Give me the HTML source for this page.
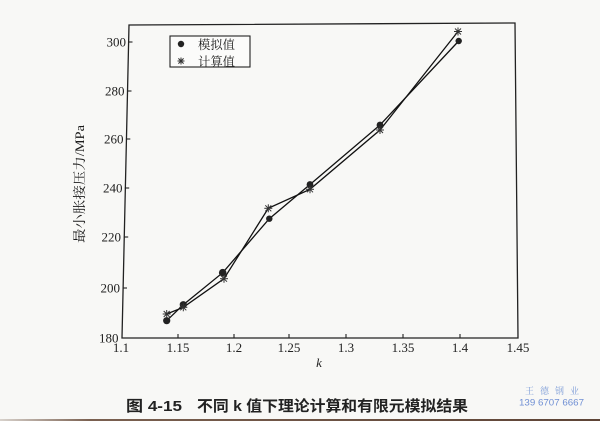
<!DOCTYPE html>
<html><head><meta charset="utf-8"><style>
html,body{margin:0;padding:0;background:#f8f8f6;}
svg{display:block;}
</style></head><body>
<svg width="600" height="421" viewBox="0 0 600 421" xmlns="http://www.w3.org/2000/svg">
<defs>
<linearGradient id="bb" x1="0" x2="1" y1="0" y2="0">
<stop offset="0" stop-color="#d8d2cc"/><stop offset="0.15" stop-color="#7a6050"/><stop offset="1" stop-color="#5e4436"/>
</linearGradient>
</defs>
<rect x="0" y="0" width="600" height="421" fill="#f8f8f6"/>
<rect x="0" y="419" width="600" height="2" fill="url(#bb)"/>
<!-- axes box -->
<polygon points="129,25 515,23 518,338 122,338" fill="none" stroke="#222" stroke-width="1.3"/>
<!-- y ticks -->
<g stroke="#222" stroke-width="1.1">
<line x1="128.1" y1="42" x2="132.5" y2="42"/>
<line x1="127" y1="91" x2="131.5" y2="91"/>
<line x1="125.9" y1="139" x2="130.3" y2="139"/>
<line x1="124.8" y1="188" x2="129.2" y2="188"/>
<line x1="123.8" y1="237" x2="128.2" y2="237"/>
<line x1="122.6" y1="288" x2="127" y2="288"/>
<!-- x ticks -->
<line x1="178" y1="338" x2="178" y2="334"/>
<line x1="234" y1="338" x2="234" y2="334"/>
<line x1="289" y1="338" x2="289" y2="334"/>
<line x1="346" y1="338" x2="346" y2="334"/>
<line x1="403" y1="338" x2="403" y2="334"/>
<line x1="460" y1="338" x2="460" y2="334"/>
</g>
<g font-family="'Liberation Serif', serif" font-size="13" fill="#222" text-anchor="end">
<text x="126" y="46.5">300</text>
<text x="124.5" y="95.5">280</text>
<text x="123.5" y="143.5">260</text>
<text x="122.5" y="192.5">240</text>
<text x="121" y="241.5">220</text>
<text x="120" y="292.5">200</text>
<text x="118.5" y="342.5">180</text>
</g>
<g font-family="'Liberation Serif', serif" font-size="13" fill="#222" text-anchor="middle">
<text x="121" y="352">1.1</text>
<text x="178" y="352">1.15</text>
<text x="234" y="352">1.2</text>
<text x="289" y="352">1.25</text>
<text x="346" y="352">1.3</text>
<text x="403" y="352">1.35</text>
<text x="460" y="352">1.4</text>
<text x="518" y="352">1.45</text>
<text x="319" y="367" font-style="italic">k</text>
</g>
<text transform="translate(84,184) rotate(-90)" font-family="'Liberation Serif','Noto Serif CJK SC',serif" font-size="13" fill="#1a1a1a" text-anchor="middle" textLength="118" lengthAdjust="spacingAndGlyphs">最小胀接压力/MPa</text>
<!-- series lines -->
<polyline points="166.7,320.7 183.3,304.7 222.7,272.7 269.3,218.7 310,184.5 380,125 458.7,41" fill="none" stroke="#111" stroke-width="1.3"/>
<polyline points="166.7,314 183.3,307.3 224,278.7 268.3,208.3 310,189.3 380,130 458,31.5" fill="none" stroke="#111" stroke-width="1.3"/>
<!-- circles -->
<g fill="#222">
<circle cx="166.7" cy="320.7" r="3.6"/>
<circle cx="183.3" cy="304.7" r="3.6"/>
<circle cx="222.7" cy="272.7" r="3.8"/>
<circle cx="269.3" cy="218.7" r="3.2"/>
<circle cx="310" cy="184.5" r="3.4"/>
<circle cx="380" cy="125" r="3.4"/>
<circle cx="458.7" cy="41" r="3.2"/>
</g>
<!-- stars -->
<g stroke="#333" stroke-width="1">
<g transform="translate(166.7,314)"><line x1="-4" y1="0" x2="4" y2="0"/><line x1="0" y1="-4" x2="0" y2="4"/><line x1="-3" y1="-3" x2="3" y2="3"/><line x1="-3" y1="3" x2="3" y2="-3"/></g>
<g transform="translate(183.3,307.3)"><line x1="-4" y1="0" x2="4" y2="0"/><line x1="0" y1="-4" x2="0" y2="4"/><line x1="-3" y1="-3" x2="3" y2="3"/><line x1="-3" y1="3" x2="3" y2="-3"/></g>
<g transform="translate(224,278.7)"><line x1="-4" y1="0" x2="4" y2="0"/><line x1="0" y1="-4" x2="0" y2="4"/><line x1="-3" y1="-3" x2="3" y2="3"/><line x1="-3" y1="3" x2="3" y2="-3"/></g>
<g transform="translate(268.3,208.3)"><line x1="-4" y1="0" x2="4" y2="0"/><line x1="0" y1="-4" x2="0" y2="4"/><line x1="-3" y1="-3" x2="3" y2="3"/><line x1="-3" y1="3" x2="3" y2="-3"/></g>
<g transform="translate(310,189.3)"><line x1="-4" y1="0" x2="4" y2="0"/><line x1="0" y1="-4" x2="0" y2="4"/><line x1="-3" y1="-3" x2="3" y2="3"/><line x1="-3" y1="3" x2="3" y2="-3"/></g>
<g transform="translate(380,130)"><line x1="-4" y1="0" x2="4" y2="0"/><line x1="0" y1="-4" x2="0" y2="4"/><line x1="-3" y1="-3" x2="3" y2="3"/><line x1="-3" y1="3" x2="3" y2="-3"/></g>
<g transform="translate(458,31.5)"><line x1="-4" y1="0" x2="4" y2="0"/><line x1="0" y1="-4" x2="0" y2="4"/><line x1="-3" y1="-3" x2="3" y2="3"/><line x1="-3" y1="3" x2="3" y2="-3"/></g>
</g>
<!-- legend -->
<rect x="170" y="36" width="80" height="31" fill="#fbfbfa" stroke="#222" stroke-width="1.1"/>
<circle cx="181" cy="44" r="3.2" fill="#222"/>
<g transform="translate(181,61)" stroke="#333" stroke-width="1"><line x1="-3.5" y1="0" x2="3.5" y2="0"/><line x1="0" y1="-3.5" x2="0" y2="3.5"/><line x1="-2.6" y1="-2.6" x2="2.6" y2="2.6"/><line x1="-2.6" y1="2.6" x2="2.6" y2="-2.6"/></g>
<g font-family="'Liberation Serif','Noto Serif CJK SC',serif" font-size="12.5" fill="#222">
<text x="198" y="49" textLength="37" lengthAdjust="spacingAndGlyphs">模拟值</text>
<text x="198" y="66" textLength="37" lengthAdjust="spacingAndGlyphs">计算值</text>
</g>
<!-- caption -->
<g font-family="'Liberation Sans','Noto Sans CJK SC',sans-serif" font-size="15" font-weight="bold" fill="#222">
<text x="126" y="411" textLength="56" lengthAdjust="spacingAndGlyphs">图 4-15</text>
<text x="197" y="411" textLength="271" lengthAdjust="spacingAndGlyphs">不同 k 值下理论计算和有限元模拟结果</text>
</g>
<!-- watermark -->
<text x="525" y="394" font-family="'Noto Serif CJK SC',serif" font-size="9" fill="#7f9ed8" textLength="54" lengthAdjust="spacing">王德钢业</text>
<text x="519" y="405.5" font-family="'Liberation Sans',sans-serif" font-size="9.5" fill="#6f8fd4" textLength="65" lengthAdjust="spacingAndGlyphs">139 6707 6667</text>
</svg>
</body></html>
